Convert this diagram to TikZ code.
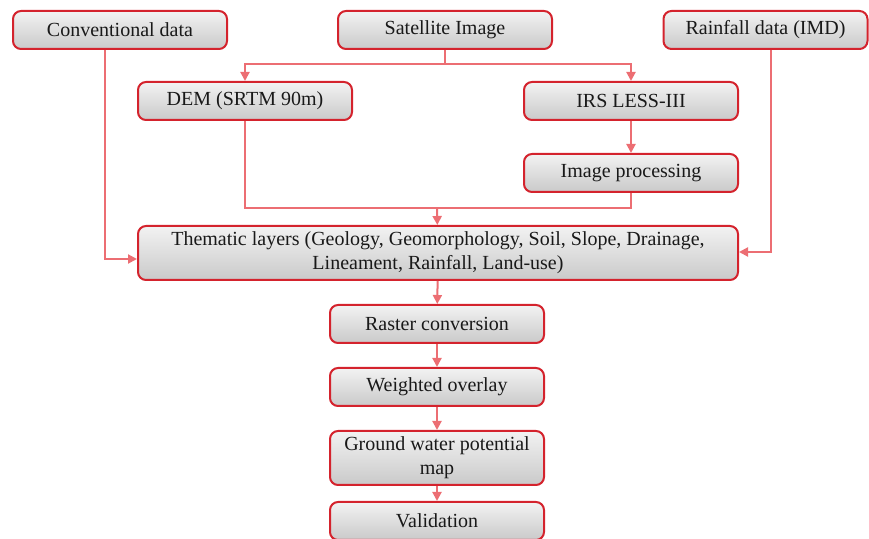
\documentclass[tikz,border=0pt]{standalone}
\usepackage{fontspec}
\setmainfont{Liberation Serif}
\usetikzlibrary{arrows.meta}
\definecolor{boxred}{RGB}{212,35,45}
\definecolor{linered}{RGB}{236,110,115}
\definecolor{textgray}{RGB}{25,25,25}

\begin{document}
\begin{tikzpicture}[x=0.5pt, y=-0.5pt, font=\fontsize{10}{12}\selectfont]
% Define styles
\tikzstyle{block} = [rectangle, rounded corners=4pt, minimum width=107pt, minimum height=19pt, align=center, draw=boxred, line width=1pt, top color=gray!10, bottom color=gray!42, text=textgray, inner sep=2pt]
\tikzstyle{line} = [draw=linered, line width=1pt]
\tikzstyle{arrow} = [line, ->, >={Triangle[length=4.5pt,width=4.5pt]}]
\useasboundingbox (0,0) rectangle (869,539);
% Place nodes
\node (conv) [block] at (120,30) {Conventional data};
\node (sat) [block] at (445,30) {Satellite Image};
\node (rain) [block, minimum width=102pt] at (765.5,30) {Rainfall data (IMD)};
\node (dem) [block] at (245,101) {DEM (SRTM 90m)};
\node (irs) [block] at (631,101) {IRS LESS-III};
\node (proc) [block] at (631,173) {Image processing};
\node (them) [block, minimum width=300pt, minimum height=27pt] at (438,253) {Thematic layers (Geology, Geomorphology, Soil, Slope, Drainage,\\ Lineament, Rainfall, Land-use)};
\node (raster) [block] at (437,324) {Raster conversion};
\node (overlay) [block] at (437,387) {Weighted overlay};
\node (gwp) [block, minimum height=27pt] at (437,458) {Ground water potential\\ map};
\node (valid) [block] at (437,521) {Validation};
% Turning points
\coordinate (split) at (445,64);
\coordinate (merge) at (437,208);
\coordinate (convturn) at (105,259);
\coordinate (rainturn) at (771,252);
% Draw arrows
\draw [line] (sat) -- (split);
\draw [arrow] (split) -| (dem);
\draw [arrow] (split) -| (irs);
\draw [arrow] (irs) -- (proc);
\draw [line] (dem) |- (merge);
\draw [line] (proc) |- (merge);
\draw [arrow] (merge) -- (them);
\draw [arrow] (conv.south -| convturn) -- (convturn) -- (them.west |- convturn);
\draw [arrow] (rain.south -| rainturn) -- (rainturn) -- (them.east |- rainturn);
\draw [arrow] (them) -- (raster);
\draw [arrow] (raster) -- (overlay);
\draw [arrow] (overlay) -- (gwp);
\draw [arrow] (gwp) -- (valid);
\end{tikzpicture}
\end{document}
